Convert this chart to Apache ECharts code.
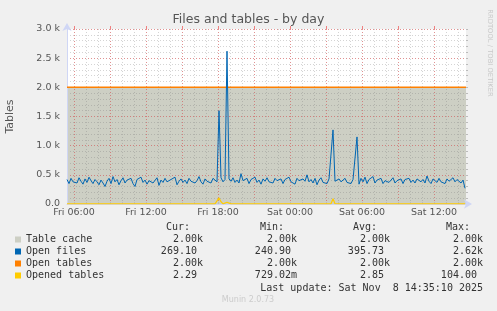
<!DOCTYPE html>
<html><head><meta charset="utf-8">
<script src="https://cdn.jsdelivr.net/npm/echarts@6/dist/echarts.min.js"></script>
<style>html,body{margin:0;padding:0;background:#f0f0f0}#c{width:497px;height:311px}</style>
</head><body><div id="c"></div>
<script>
// time axis in hours since Fri 00:00
const xMin = 5 + 25/60;      // Fri 05:25
const xMax = 38 + 40/60;     // Sat 14:40
const sampleStart = 5 + 25/60;
const sampleStepHours = 10/60;

const openFiles = [
420,350,440,380,410,360,450,390,340,430,370,460,400,350,420,380,330,410,360,300,
390,440,350,470,380,420,330,400,450,360,410,380,440,350,300,420,390,460,370,410,
340,400,430,360,390,450,320,410,370,440,380,350,420,400,460,330,390,430,370,410,
350,440,390,420,360,400,470,380,340,430,390,410,360,440,420,380,1600,450,380,420,
2620,430,390,450,370,410,360,520,400,380,440,350,420,390,460,370,410,340,430,390,
450,380,410,360,440,400,370,430,350,420,390,460,380,410,340,440,400,370,430,390,
500,380,420,360,440,330,410,450,370,400,350,430,420,1270,390,360,430,380,410,440,
370,400,350,420,390,1150,340,440,380,460,350,420,390,470,360,410,380,440,350,400,
430,370,410,450,360,400,380,430,350,420,390,440,370,410,360,430,400,380,420,360,
480,390,350,430,400,370,440,380,410,350,430,390,370,450,380,420,400,360,410,270
];
const openedTables = [
2,3,2,2,3,2,1,2,3,2,2,3,2,2,2,3,2,1,2,3,
2,2,3,2,2,3,2,2,1,2,3,2,2,3,2,2,2,3,2,2,
3,2,2,2,3,2,1,2,2,3,2,2,3,2,2,2,3,2,2,3,
2,2,3,2,2,2,3,2,2,3,2,2,2,3,2,2,104,40,3,2,
30,3,2,2,3,2,2,3,2,2,2,3,2,2,3,2,2,2,3,2,
2,3,2,2,2,3,2,2,3,2,1,2,3,2,2,3,2,2,2,3,
2,2,3,2,2,3,2,2,2,3,2,2,3,90,4,2,3,2,2,3,
2,2,3,2,2,3,2,2,3,2,2,2,3,2,2,3,2,2,2,3,
2,3,2,2,3,2,2,2,3,2,2,3,2,2,2,3,2,2,3,2,
2,3,2,2,3,2,2,2,3,2,2,3,2,2,3,2,2,2,3,2
];
const tableCacheTimes = [xMin, xMax];
const tableCacheValues = [2000, 2000];
const openTablesTimes = [xMin, xMax];
const openTablesValues = [2000, 2000];

const xLabelHours = [6, 12, 18, 24, 30, 36];
const xLabelTexts = ['Fri 06:00', 'Fri 12:00', 'Fri 18:00', 'Sat 00:00', 'Sat 06:00', 'Sat 12:00'];
const minorHours = [6,7,8,9,10,11,12,13,14,15,16,17,18,19,20,21,22,23,24,25,26,27,28,29,30,31,32,33,34,35,36,37,38];
const majorHours = [6,9,12,15,18,21,24,27,30,33,36];

const legendNames = ['Table cache', 'Open files', 'Open tables', 'Opened tables'];
const legendColors = ['#cdcfc4', '#0066b3', '#ff8000', '#ffcc00'];
const legendCur = ['2.00k', '269.10 ', '2.00k', '2.29 '];
const legendMin = ['2.00k', '240.90 ', '2.00k', '729.02m'];
const legendAvg = ['2.00k', '395.73 ', '2.00k', '2.85 '];
const legendMax = ['2.00k', '2.62k', '2.00k', '104.00 '];
const legendHeaders = ['Cur:', 'Min:', 'Avg:', 'Max:'];

const pair = (ts, vs) => vs.map((v, i) => [ts[i], v]);
const sampled = vs => vs.map((v, i) => [sampleStart + i * sampleStepHours, v]);

const chart = echarts.init(document.getElementById('c'), null, {renderer: 'canvas'});
const axisColor = '#cfd6f5';
const minorGrid = 'rgba(120,120,120,0.32)';
const majorGrid = 'rgba(235,80,80,0.5)';
const sans = 'DejaVu Sans';

const graphics = [
  {type: 'text', left: 'center', top: 13, style: {text: 'Files and tables - by day', font: '12.5px "DejaVu Sans"', fill: '#555'}},
  {type: 'text', x: 490, y: 53, rotation: -Math.PI/2, style: {text: 'RRDTOOL / TOBI OETIKER', font: '6.8px "DejaVu Sans"', fill: '#c8c8c8', align: 'center', verticalAlign: 'middle'}},
  {type: 'text', x: 248, y: 300, style: {text: 'Munin 2.0.73', font: '8px "DejaVu Sans"', fill: '#cccccc', align: 'center', verticalAlign: 'middle'}},
  {type: 'text', x: 483, y: 288, style: {text: 'Last update: Sat Nov  8 14:35:10 2025', font: '10px "DejaVu Sans Mono"', fill: '#333', align: 'right', verticalAlign: 'middle'}}
];
const headerRight = [190, 284, 377, 470];
const colRight = [203, 297, 390, 483];
const rowY = [239.5, 251.5, 263.5, 275.5];
legendHeaders.forEach((h, i) => graphics.push({type: 'text', x: headerRight[i], y: 227.5, style: {text: h, font: '10px "DejaVu Sans Mono"', fill: '#333', align: 'right', verticalAlign: 'middle'}}));
legendNames.forEach((n, r) => {
  graphics.push({type: 'rect', shape: {x: 15, y: rowY[r] - 3, width: 6, height: 6}, style: {fill: legendColors[r]}});
  graphics.push({type: 'text', x: 26, y: rowY[r], style: {text: n, font: '10px "DejaVu Sans Mono"', fill: '#333', align: 'left', verticalAlign: 'middle'}});
  [legendCur, legendMin, legendAvg, legendMax].forEach((col, c) => {
    graphics.push({type: 'text', x: colRight[c], y: rowY[r], style: {text: col[r], font: '10px "DejaVu Sans Mono"', fill: '#333', align: 'right', verticalAlign: 'middle'}});
  });
});

chart.setOption({
  animation: false,
  backgroundColor: '#f0f0f0',
  grid: {left: 67, right: 31, top: 29, bottom: 107, show: true, backgroundColor: '#ffffff', borderWidth: 0,
         containLabel: false, outerBoundsMode: 'none'},
  xAxis: [
    {type: 'value', min: xMin, max: xMax, z: 4,
     axisLine: {show: true, lineStyle: {color: axisColor, width: 1}, symbol: ['none', 'arrow'], symbolSize: [7, 8], symbolOffset: [0, 6]},
     axisTick: {show: false},
     splitLine: {show: false},
     axisLabel: {customValues: xLabelHours, margin: 4, color: '#555', fontFamily: sans, fontSize: 9.5,
       formatter: v => { const k = xLabelHours.indexOf(Math.round(v)); return k >= 0 ? xLabelTexts[k] : ''; }}},
    {type: 'value', min: xMin, max: xMax, z: 3,
     axisLine: {show: false}, axisLabel: {show: false},
     axisTick: {show: true, customValues: minorHours, length: 2, lineStyle: {color: '#bbbbbb'}},
     splitLine: {show: true, lineStyle: {color: minorGrid, type: [1, 2], width: 1}}},
    {type: 'value', min: xMin, max: xMax, z: 3,
     axisLine: {show: false}, axisLabel: {show: false},
     axisTick: {show: true, customValues: majorHours, length: 3, lineStyle: {color: '#f08080'}},
     splitLine: {show: true, lineStyle: {color: majorGrid, type: [1, 2], width: 1}}}
  ],
  yAxis: [
    {type: 'value', min: 0, max: 3000, interval: 500, z: 4,
     name: 'Tables', nameLocation: 'middle', nameGap: 51, nameTextStyle: {color: '#555', fontFamily: sans, fontSize: 11},
     axisLine: {show: true, lineStyle: {color: axisColor, width: 1}, symbol: ['none', 'arrow'], symbolSize: [7, 8], symbolOffset: [0, 6]},
     axisTick: {show: false},
     splitLine: {show: true, lineStyle: {color: majorGrid, type: [1, 2], width: 1}},
     axisLabel: {margin: 7, color: '#555', fontFamily: sans, fontSize: 9.5,
       formatter: v => v === 0 ? '0.0' : (v / 1000).toFixed(1) + ' k'}},
    {type: 'value', min: 0, max: 3000, interval: 100, z: 3,
     axisLine: {show: false}, axisLabel: {show: false},
     axisTick: {show: true, length: 2, lineStyle: {color: '#bbbbbb'}},
     splitLine: {show: true, lineStyle: {color: minorGrid, type: [1, 2], width: 1}}}
  ],
  series: [
    {name: 'Table cache', type: 'line', z: 1, data: pair(tableCacheTimes, tableCacheValues), symbol: 'none',
     lineStyle: {width: 0}, areaStyle: {color: '#cdcfc4', opacity: 1}},
    {name: 'Open tables', type: 'line', z: 5, data: pair(openTablesTimes, openTablesValues), symbol: 'none',
     lineStyle: {color: '#ff8000', width: 1.5}},
    {name: 'Open files', type: 'line', z: 6, data: sampled(openFiles), symbol: 'none',
     lineStyle: {color: '#0066b3', width: 1}},
    {name: 'Opened tables', type: 'line', z: 7, data: sampled(openedTables), symbol: 'none',
     lineStyle: {color: '#ffcc00', width: 1.2}}
  ],
  graphic: graphics
});
</script>
</body></html>
